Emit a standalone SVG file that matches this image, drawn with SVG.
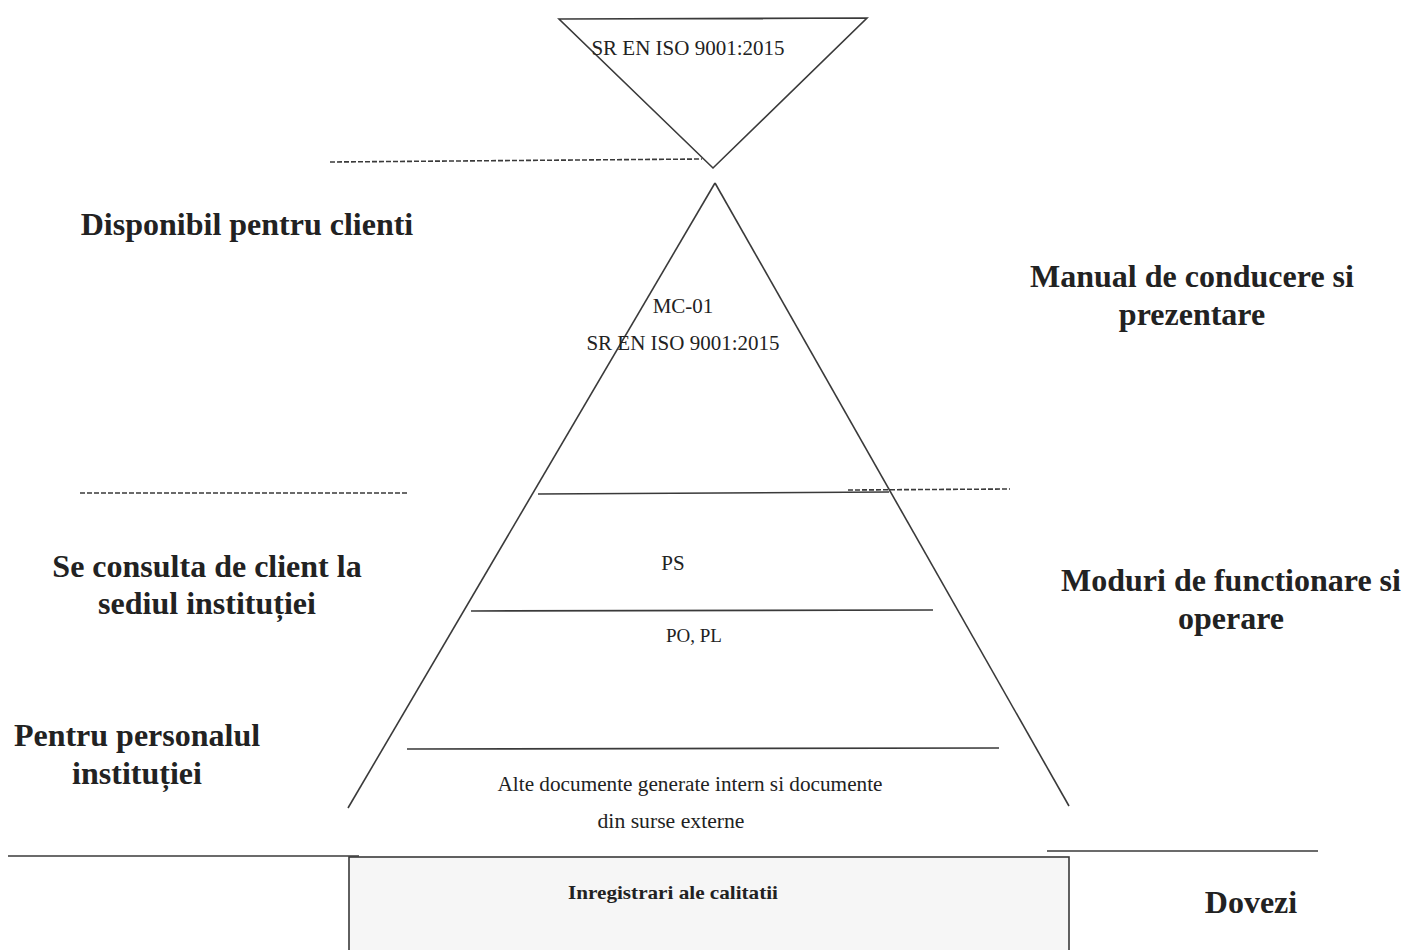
<svg xmlns="http://www.w3.org/2000/svg" width="1405" height="950" viewBox="0 0 1405 950">
<style>
.ln{stroke:#3a3a3a;stroke-width:1.6;fill:none}
.dash{stroke:#3a3a3a;stroke-width:1.6;fill:none;stroke-dasharray:5 2}
.sm{font-family:"Liberation Serif","Times New Roman",serif;font-size:21px;fill:#222;text-anchor:middle}
.bd{font-family:"Liberation Serif","Times New Roman",serif;font-size:32px;font-weight:bold;fill:#222;text-anchor:middle}
.bs{font-family:"Liberation Serif","Times New Roman",serif;font-size:19px;font-weight:bold;fill:#222;text-anchor:middle}
</style>
<rect width="1405" height="950" fill="#ffffff"/>
<g id="connectors">
<line class="dash" x1="330" y1="162" x2="702" y2="159"/>
<line class="dash" x1="80" y1="493" x2="407" y2="493"/>
<line class="dash" x1="848" y1="490" x2="1010" y2="489"/>
<line class="ln" x1="8" y1="856" x2="359" y2="856"/>
<line class="ln" x1="1047" y1="851" x2="1318" y2="851"/>
</g>
<g id="top-triangle">
<polygon class="ln" points="559,19 867,18 713,168"/>
<text class="sm" x="688" y="55">SR EN ISO 9001:2015</text>
</g>
<g id="pyramid">
<line class="ln" x1="715" y1="183" x2="348" y2="808"/>
<line class="ln" x1="715" y1="183" x2="1069" y2="806"/>
<line class="ln" x1="538" y1="494" x2="889" y2="492"/>
<line class="ln" x1="471" y1="611" x2="933" y2="610"/>
<line class="ln" x1="407" y1="749" x2="999" y2="748"/>
</g>
<g id="level-mc">
<text class="sm" x="683" y="313">MC-01</text>
<text class="sm" x="683" y="350">SR EN ISO 9001:2015</text>
</g>
<g id="level-ps">
<text class="sm" x="673" y="570">PS</text>
</g>
<g id="level-po">
<text class="sm" x="694" y="642" style="font-size:19px">PO, PL</text>
</g>
<g id="level-alte">
<text class="sm" x="690" y="791" style="font-size:20px" textLength="385" lengthAdjust="spacingAndGlyphs">Alte documente generate intern si documente</text>
<text class="sm" x="671" y="828" style="font-size:20px" textLength="147" lengthAdjust="spacingAndGlyphs">din surse externe</text>
</g>
<g id="records">
<rect x="349" y="857" width="720" height="100" fill="#f6f6f6" stroke="#3a3a3a" stroke-width="1.6"/>
<text class="bs" x="673" y="899" textLength="210" lengthAdjust="spacingAndGlyphs">Inregistrari ale calitatii</text>
</g>
<g id="label-disponibil">
<text class="bd" x="247" y="235">Disponibil pentru clienti</text>
</g>
<g id="label-manual">
<text class="bd" x="1192" y="287">Manual de conducere si</text>
<text class="bd" x="1192" y="325">prezentare</text>
</g>
<g id="label-consulta">
<text class="bd" x="207" y="577">Se consulta de client la</text>
<text class="bd" x="207" y="614">sediul instituției</text>
</g>
<g id="label-moduri">
<text class="bd" x="1231" y="591">Moduri de functionare si</text>
<text class="bd" x="1231" y="629">operare</text>
</g>
<g id="label-personal">
<text class="bd" x="137" y="746">Pentru personalul</text>
<text class="bd" x="137" y="784">instituției</text>
</g>
<g id="label-dovezi">
<text class="bd" x="1251" y="913">Dovezi</text>
</g>
</svg>
